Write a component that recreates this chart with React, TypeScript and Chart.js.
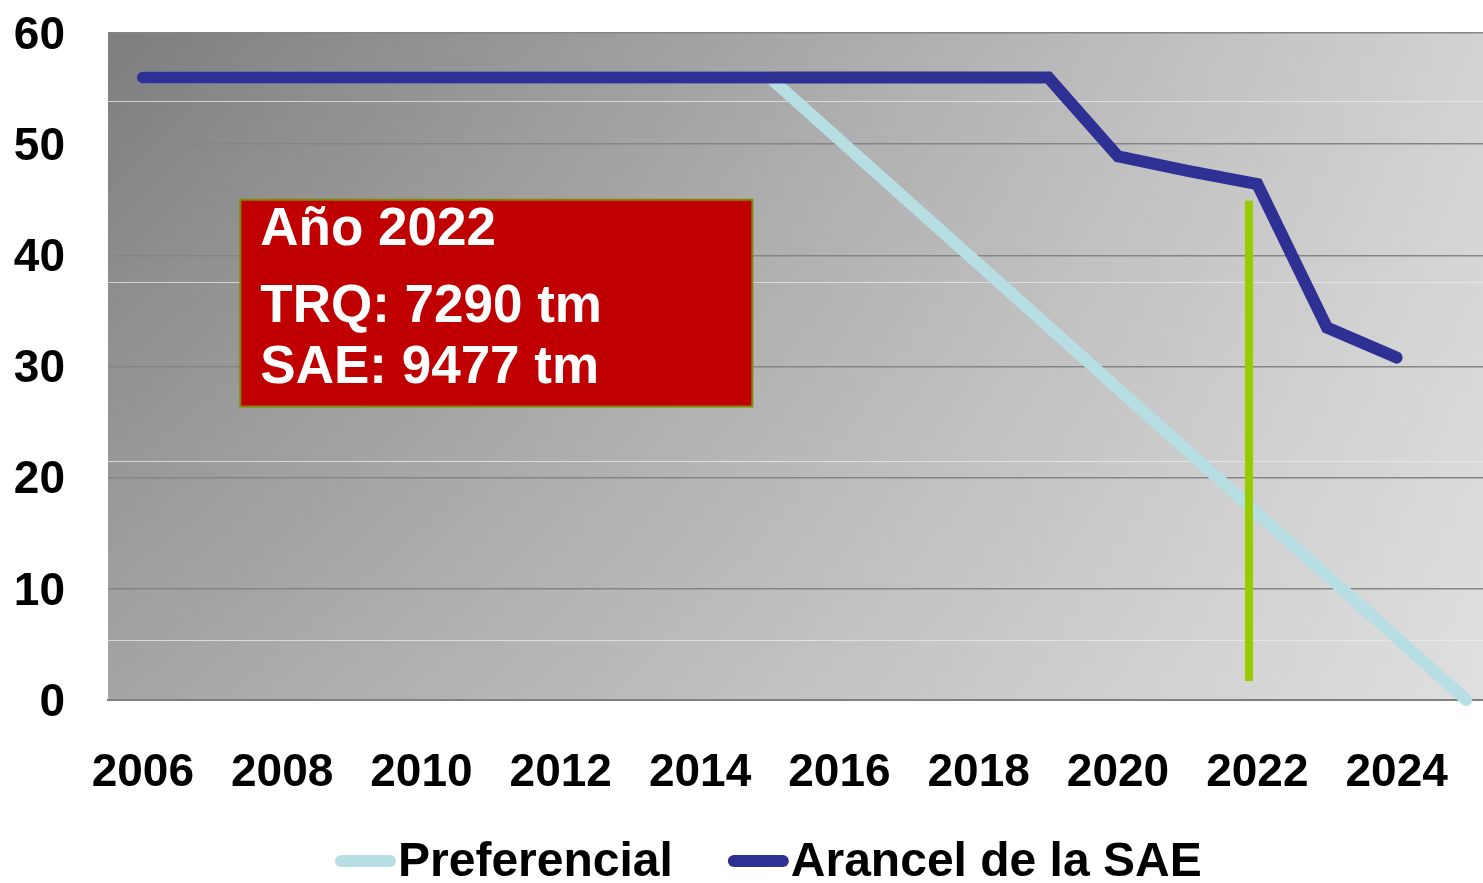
import React, { useEffect, useRef } from "react";
import { Chart, registerables } from "chart.js";

Chart.register(...registerables);

const YEARS = [2006, 2007, 2008, 2009, 2010, 2011, 2012, 2013, 2014, 2015, 2016, 2017, 2018, 2019, 2020, 2021, 2022, 2023, 2024, 2025];
const PREFERENCIAL = [56, 56, 56, 56, 56, 56, 56, 56, 56, 56, 50.4, 44.8, 39.2, 33.6, 28, 22.4, 16.8, 11.2, 5.6, 0];
const ARANCEL_SAE = [56, 56, 56, 56, 56, 56, 56, 56, 56, 56, 56, 56, 56, 56, 48.9, 47.6, 46.4, 33.5, 30.8];
const SERIES_LABELS = ["Preferencial", "Arancel de la SAE"];
const X_TICKS = [2006, 2008, 2010, 2012, 2014, 2016, 2018, 2020, 2022, 2024];
const Y_TICKS = [0, 10, 20, 30, 40, 50, 60];
const MARKER_X = [2021.88, 2021.88];
const MARKER_Y = [44.9, 1.7];
const BOX_LINES = ["Año 2022", "TRQ: 7290 tm", "SAE: 9477 tm"];

const FONT = "'Liberation Sans', Arial, Helvetica, sans-serif";
const COLORS = ["#b7dee2", "#2e3094", "#99cc00"];

const backgroundPlugin = {
  id: "bgGradient",
  beforeDraw(chart: any) {
    const { ctx, chartArea } = chart;
    const { left, right, top, bottom } = chartArea;
    ctx.save();
    const g = ctx.createLinearGradient(left, 0, right, 0);
    g.addColorStop(0, "#7e7e7e");
    g.addColorStop(1, "#d2d2d2");
    ctx.fillStyle = g;
    ctx.fillRect(left, top, right - left, bottom - top);
    const v = ctx.createLinearGradient(0, top, 0, bottom);
    v.addColorStop(0, "rgba(255,255,255,0)");
    v.addColorStop(1, "rgba(255,255,255,0.3)");
    ctx.fillStyle = v;
    ctx.fillRect(left, top, right - left, bottom - top);
    ctx.strokeStyle = "rgba(235,235,235,0.75)";
    ctx.lineWidth = 1;
    [0.102, 0.373, 0.641, 0.91].forEach((f) => {
      const y = Math.round(top + f * (bottom - top)) + 0.5;
      ctx.beginPath();
      ctx.moveTo(left, y);
      ctx.lineTo(right, y);
      ctx.stroke();
    });
    ctx.restore();
  },
};

const overlayPlugin = {
  id: "overlay",
  afterDraw(chart: any) {
    const { ctx } = chart;
    const xs = chart.scales.x;
    const ys = chart.scales.y;
    ctx.save();
    // annotation box
    const x0 = xs.getPixelForValue(2007.4);
    const x1 = xs.getPixelForValue(2014.75);
    const y0 = ys.getPixelForValue(45);
    const y1 = ys.getPixelForValue(26.4);
    ctx.fillStyle = "#c00000";
    ctx.fillRect(x0, y0, x1 - x0, y1 - y0);
    ctx.strokeStyle = "#7f8a00";
    ctx.lineWidth = 2;
    ctx.strokeRect(x0, y0, x1 - x0, y1 - y0);
    ctx.fillStyle = "#ffffff";
    ctx.font = `bold 53px ${FONT}`;
    ctx.textAlign = "left";
    ctx.textBaseline = "alphabetic";
    const offs = [45, 122, 183];
    BOX_LINES.forEach((t, i) => ctx.fillText(t, x0 + 20, y0 + offs[i]));

    // legend
    ctx.font = `bold 48px ${FONT}`;
    const items = chart.data.datasets.filter((d: any) => SERIES_LABELS.includes(d.label));
    let x = 335;
    const yMid = 861;
    items.forEach((d: any) => {
      ctx.strokeStyle = d.borderColor;
      ctx.lineWidth = 12;
      ctx.lineCap = "round";
      ctx.beginPath();
      ctx.moveTo(x + 6, yMid);
      ctx.lineTo(x + 55, yMid);
      ctx.stroke();
      x += 63;
      ctx.fillStyle = "#000";
      ctx.fillText(d.label, x, 876);
      x += ctx.measureText(d.label).width + 55;
    });
    ctx.restore();
  },
};

export default function App() {
  const ref = useRef<HTMLCanvasElement | null>(null);
  useEffect(() => {
    if (!ref.current) return;
    const chart = new Chart(ref.current, {
      type: "line",
      data: {
        datasets: [
          {
            label: SERIES_LABELS[0],
            data: YEARS.map((y, i) => ({ x: y, y: PREFERENCIAL[i] })),
            borderColor: COLORS[0],
            backgroundColor: COLORS[0],
            borderWidth: 12,
            pointRadius: 0,
            borderCapStyle: "round",
            order: 3,
            clip: 8,
          },
          {
            label: SERIES_LABELS[1],
            data: ARANCEL_SAE.map((v, i) => ({ x: YEARS[i], y: v })),
            borderColor: COLORS[1],
            backgroundColor: COLORS[1],
            borderWidth: 12,
            pointRadius: 0,
            borderCapStyle: "round",
            order: 1,
          },
          {
            label: "marker",
            data: MARKER_X.map((xv, i) => ({ x: xv, y: MARKER_Y[i] })),
            borderColor: COLORS[2],
            backgroundColor: COLORS[2],
            borderWidth: 8,
            pointRadius: 0,
            borderCapStyle: "butt",
            order: 2,
          },
        ],
      } as any,
      plugins: [backgroundPlugin, overlayPlugin],
      options: {
        animation: false,
        responsive: false,
        layout: { padding: { top: 33, left: 0, right: 0, bottom: 0 } },
        plugins: { legend: { display: false }, tooltip: { enabled: false }, title: { display: false } },
        scales: {
          x: {
            type: "linear",
            min: 2005.5,
            max: 2025.24,
            afterBuildTicks: (s: any) => {
              s.ticks = X_TICKS.map((v) => ({ value: v }));
            },
            afterFit: (s: any) => {
              s.height = 183;
              s.paddingLeft = 0;
              s.paddingRight = 0;
              s.paddingTop = 0;
              s.paddingBottom = 0;
            },
            grid: { display: false, drawTicks: false },
            border: { display: true, color: "#808080", width: 2 },
            ticks: {
              padding: 46,
              color: "#000",
              font: { family: FONT, size: 46, weight: "bold" },
              maxRotation: 0,
              autoSkip: false,
              callback: (v: any) => String(v),
            },
          },
          y: {
            min: 0,
            max: 60,
            afterBuildTicks: (s: any) => {
              s.ticks = Y_TICKS.map((v) => ({ value: v }));
            },
            afterFit: (s: any) => {
              s.width = 108;
              s.paddingLeft = 0;
              s.paddingRight = 0;
              s.paddingTop = 0;
              s.paddingBottom = 0;
            },
            grid: { color: "#858585", lineWidth: 1.5, drawTicks: false },
            border: { display: false },
            ticks: {
              padding: 43,
              labelOffset: 3,
              color: "#000",
              font: { family: FONT, size: 46, weight: "bold" },
              callback: (v: any) => String(v),
            },
          },
        },
      } as any,
    });
    return () => chart.destroy();
  }, []);
  return (
    <div style={{ position: "absolute", left: 0, top: 0, width: 1483, height: 883, background: "#fff" }}>
      <canvas ref={ref} width={1483} height={883} style={{ display: "block" }} />
    </div>
  );
}
